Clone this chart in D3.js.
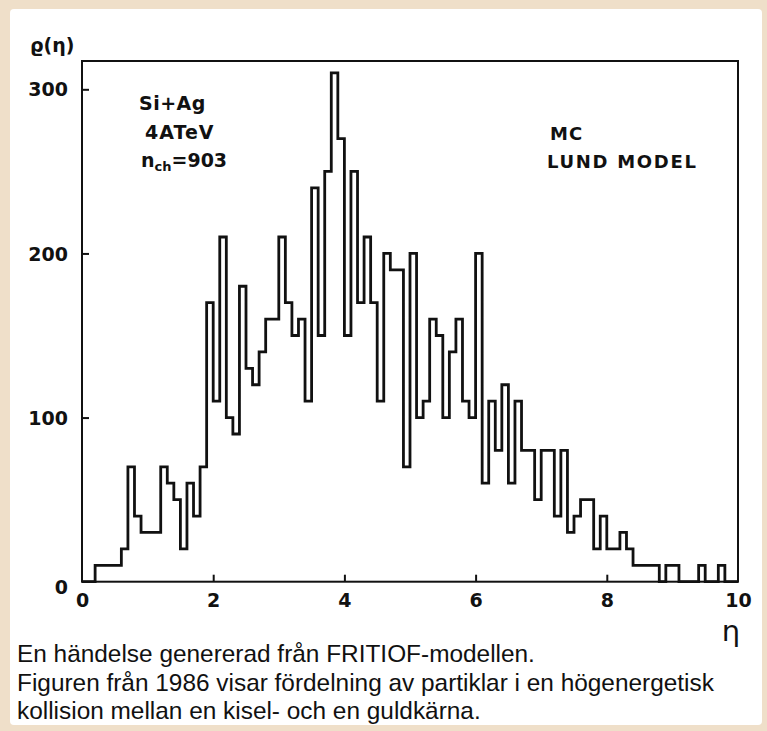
<!DOCTYPE html>
<html>
<head>
<meta charset="utf-8">
<script src="https://cdn.jsdelivr.net/npm/d3@7"></script>
<style>
  html, body { margin: 0; padding: 0; background: #efdfc9; }
  svg { display: block; }
</style>
</head>
<body>
<svg id="chart" width="767" height="731"></svg>
<script>
// ---------- data ----------
const binStart = [0.0,0.1,0.2,0.3,0.4,0.5,0.6,0.7,0.8,0.9,
  1.0,1.1,1.2,1.3,1.4,1.5,1.6,1.7,1.8,1.9,
  2.0,2.1,2.2,2.3,2.4,2.5,2.6,2.7,2.8,2.9,
  3.0,3.1,3.2,3.3,3.4,3.5,3.6,3.7,3.8,3.9,
  4.0,4.1,4.2,4.3,4.4,4.5,4.6,4.7,4.8,4.9,
  5.0,5.1,5.2,5.3,5.4,5.5,5.6,5.7,5.8,5.9,
  6.0,6.1,6.2,6.3,6.4,6.5,6.6,6.7,6.8,6.9,
  7.0,7.1,7.2,7.3,7.4,7.5,7.6,7.7,7.8,7.9,
  8.0,8.1,8.2,8.3,8.4,8.5,8.6,8.7,8.8,8.9,
  9.0,9.1,9.2,9.3,9.4,9.5,9.6,9.7,9.8,9.9];
const binWidth = 0.1;
const rhoValues = [0,0,10,10,10,10,20,70,40,30,
  30,30,70,60,50,20,60,40,70,170,
  110,210,100,90,180,130,120,140,160,160,
  210,170,150,160,110,240,150,250,310,270,
  150,250,170,210,170,110,200,190,190,70,
  200,100,110,160,150,100,140,160,110,100,
  200,60,110,80,120,60,110,80,80,50,
  80,80,40,80,30,40,50,50,20,40,
  20,20,30,20,10,10,10,10,0,10,
  10,0,0,0,10,0,0,10,0,0];
const xTicks = [0,2,4,6,8,10];
const yTicks = [0,100,200,300];
const xDomain = [0,10];
const yDomain = [0,300];
const annotLeft = ["Si+Ag", "4ATeV"];
const annotRight = ["MC", "LUND MODEL"];
const caption = [
  "En händelse genererad från FRITIOF-modellen.",
  "Figuren från 1986 visar fördelning av partiklar i en högenergetisk",
  "kollision mellan en kisel- och en guldkärna."
];

// ---------- layout ----------
const svg = d3.select("#chart");
const W = 767, H = 731;
const plot = {left: 82, right: 738, top: 61, zeroY: 581.7, y300: 89.3};
const x = d3.scaleLinear().domain(xDomain).range([plot.left, plot.right]);
const y = d3.scaleLinear().domain(yDomain).range([plot.zeroY, plot.y300]);

// background panel
svg.append("rect").attr("x",0).attr("y",0).attr("width",W).attr("height",H).attr("fill","#efdfc9");
svg.append("rect").attr("x",10).attr("y",9).attr("width",752).attr("height",716)
  .attr("rx",4).attr("fill","#ffffff");

const ink = "#111";
const tickFont = "'DejaVu Sans', sans-serif";

// frame box
svg.append("rect")
  .attr("x", plot.left).attr("y", plot.top)
  .attr("width", plot.right - plot.left).attr("height", plot.zeroY - plot.top)
  .attr("fill","none").attr("stroke", ink).attr("stroke-width", 2);

// axes via d3
const xAxis = d3.axisBottom(x).tickValues(xTicks).tickSize(-7).tickPadding(12).tickFormat(d3.format("d"));
const gx = svg.append("g").attr("transform", `translate(0,${plot.zeroY})`).call(xAxis);
gx.select(".domain").remove();
gx.selectAll(".tick line").attr("stroke", ink).attr("stroke-width", 2)
  .filter(d => d === 0 || d === 10).remove();
gx.selectAll(".tick text").attr("fill", ink).attr("font-family", tickFont)
  .attr("font-weight","bold").attr("font-size", 19).attr("dy","0.71em");

const yAxis = d3.axisLeft(y).tickValues(yTicks).tickSize(-7).tickPadding(14).tickFormat(d3.format("d"));
const gy = svg.append("g").attr("transform", `translate(${plot.left},0)`).call(yAxis);
gy.select(".domain").remove();
gy.selectAll(".tick line").attr("stroke", ink).attr("stroke-width", 2)
  .filter(d => d === 0).remove();
gy.selectAll(".tick text").attr("fill", ink).attr("font-family", tickFont)
  .attr("font-weight","bold").attr("font-size", 19)
  .attr("dy", d => d === 0 ? "0.6em" : "0.35em");

// histogram step line
const pts = [[x(binStart[0]), y(0)]];
binStart.forEach((b, i) => {
  pts.push([x(b), y(rhoValues[i])]);
  pts.push([x(b + binWidth), y(rhoValues[i])]);
});
pts.push([x(binStart[binStart.length-1] + binWidth), y(0)]);
svg.append("path")
  .attr("d", d3.line()(pts))
  .attr("fill","none").attr("stroke", ink).attr("stroke-width", 2.8)
  .attr("stroke-linejoin","miter");

// axis titles
svg.append("text").attr("x", 30).attr("y", 52)
  .attr("font-family", tickFont).attr("font-weight","bold").attr("font-size", 19).attr("fill", ink)
  .text("ϱ(η)");
svg.append("text").attr("x", 731).attr("y", 641).attr("text-anchor","middle")
  .attr("font-family", tickFont).attr("font-size", 29).attr("fill", ink)
  .text("η");

// annotations
const annFont = "'DejaVu Sans', sans-serif";
svg.append("text").attr("x", 139).attr("y", 110)
  .attr("font-family", annFont).attr("font-weight","bold").attr("font-size", 19).attr("fill", ink)
  .attr("letter-spacing", 0.5)
  .text(annotLeft[0]);
svg.append("text").attr("x", 145).attr("y", 139)
  .attr("font-family", annFont).attr("font-weight","bold").attr("font-size", 19).attr("fill", ink)
  .attr("letter-spacing", 1)
  .text(annotLeft[1]);
const nt = svg.append("text").attr("x", 141).attr("y", 167)
  .attr("font-family", annFont).attr("font-weight","bold").attr("font-size", 19).attr("fill", ink);
nt.append("tspan").text("n");
nt.append("tspan").attr("font-size", 13).attr("dy", 4).text("ch");
nt.append("tspan").attr("dy", -4).text("=903");

svg.append("text").attr("x", 550).attr("y", 140)
  .attr("font-family", annFont).attr("font-weight","bold").attr("font-size", 18).attr("fill", ink)
  .attr("letter-spacing", 1)
  .text(annotRight[0]);
svg.append("text").attr("x", 547).attr("y", 168)
  .attr("font-family", annFont).attr("font-weight","bold").attr("font-size", 18).attr("fill", ink)
  .attr("letter-spacing", 1.7)
  .text(annotRight[1]);

// caption
svg.append("g").selectAll("text").data(caption).join("text")
  .attr("x", 17).attr("y", (d, i) => 662 + i * 28.5)
  .attr("font-family", "'Liberation Sans', Arial, sans-serif")
  .attr("font-size", 24.4).attr("fill", "#111")
  .text(d => d);
</script>
</body>
</html>
